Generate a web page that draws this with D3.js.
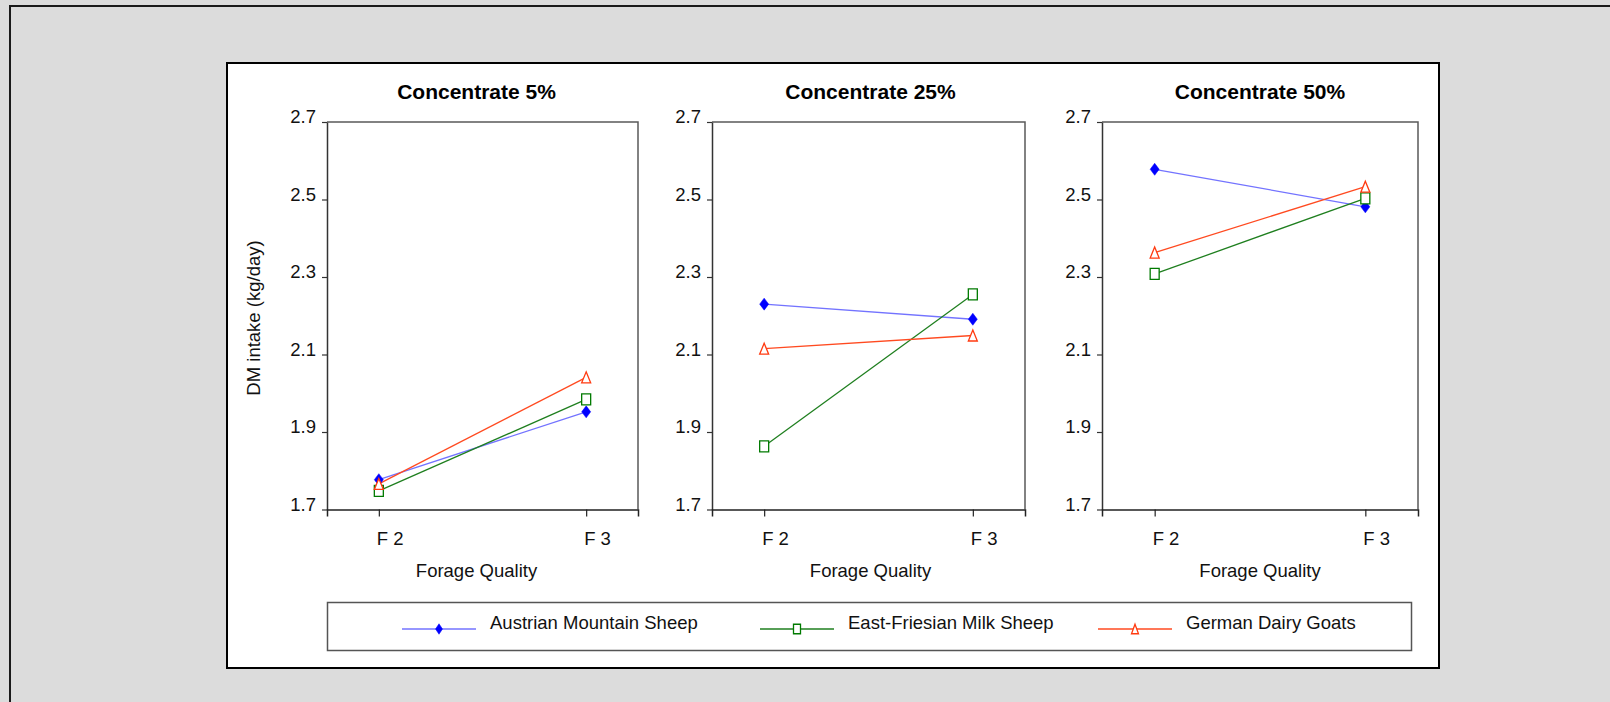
<!DOCTYPE html>
<html>
<head>
<meta charset="utf-8">
<script src="https://cdn.jsdelivr.net/npm/d3@7"></script>
<style>
  html, body { margin: 0; background: #dcdcdc; overflow: hidden; }
  svg { display: block; }
</style>
</head>
<body>
<svg id="chart" width="1610" height="702"></svg>
<script>
// chart data
const panelTitles = ["Concentrate 5%", "Concentrate 25%", "Concentrate 50%"];
const forage = ["F 2", "F 3"];
const breeds = ["Austrian Mountain Sheep", "East-Friesian Milk Sheep", "German Dairy Goats"];
const austrian = [[1.777, 1.952], [2.230, 2.191], [2.578, 2.481]];
const eastFriesian = [[1.748, 1.984], [1.863, 2.255], [2.308, 2.503]];
const germanGoats = [[1.766, 2.041], [2.115, 2.149], [2.363, 2.533]];
const yTicks = [1.7, 1.9, 2.1, 2.3, 2.5, 2.7];

const seriesValues = [austrian, eastFriesian, germanGoats];
const colors = ["#0000ff", "#007a00", "#ff3a10"];
const lineColors = ["#7373ff", "#1f7f1f", "#ff4a20"];
const shapes = ["diamond", "square", "triangle"];

let svg = d3.select("#chart");
const font = "'Liberation Sans', Arial, sans-serif";

// outer gray frame (only left and top edges visible)
svg.append("rect")
  .attr("x", 0).attr("y", 0)
  .attr("width", 1610).attr("height", 702)
  .attr("fill", "#dcdcdc");
svg.append("path")
  .attr("d", "M10,702V6H1610")
  .attr("fill", "none")
  .attr("stroke", "#1a1a1a").attr("stroke-width", 2);

// white chart area
svg.append("rect")
  .attr("x", 227).attr("y", 63)
  .attr("width", 1212).attr("height", 605)
  .attr("fill", "#ffffff")
  .attr("stroke", "#000").attr("stroke-width", 2);

// panel layout
let panelLeft = [327, 712, 1102];
let panelWidth = [311, 313, 316];
let titleShift = [-6, 2, 0];
let plotTop = 122;
let plotBottom = 509.5;

let yScale = d3.scaleLinear()
  .domain([1.7, 2.7])
  .range([plotBottom, plotTop]);

function markerPath(shape, w, h) {
  if (shape === "diamond") {
    return `M0,${-h / 2}L${w / 2},0L0,${h / 2}L${-w / 2},0Z`;
  }
  if (shape === "square") {
    return `M${-w / 2},${-h / 2}H${w / 2}V${h / 2}H${-w / 2}Z`;
  }
  return `M0,${-h / 2}L${w / 2},${h / 2}H${-w / 2}Z`;
}

function drawMarker(g, i, x, y, w, h) {
  let isDiamond = shapes[i] === "diamond";
  g.append("path")
    .attr("d", markerPath(shapes[i], w, isDiamond ? h + 1 : h))
    .attr("transform", "translate(" + x + "," + y + ")")
    .attr("fill", isDiamond ? colors[i] : "#ffffff")
    .attr("stroke", colors[i])
    .attr("stroke-width", isDiamond ? 0.5 : 1.3);
}

panelTitles.forEach((title, p) => {
  let left = panelLeft[p];
  let w = panelWidth[p];

  let xScale = d3.scalePoint()
    .domain(forage)
    .range([left, left + w])
    .padding(0.25);

  let plot = svg.append("g").attr("class", "panel");

  // frame top & right
  plot.append("path")
    .attr("d", `M${left},${plotTop}H${left + w}V${plotBottom}`)
    .attr("fill", "none")
    .attr("stroke", "#5a5a5a")
    .attr("stroke-width", 1.5);

  // y axis
  let yAxis = d3.axisLeft(yScale)
    .tickValues(yTicks)
    .tickFormat(d3.format(".1f"))
    .tickSizeInner(5)
    .tickSizeOuter(0);
  let yGroup = plot.append("g")
    .attr("transform", "translate(" + left + ",0)")
    .call(yAxis);
  yGroup.select(".domain").attr("stroke", "#333").attr("stroke-width", 1.5);
  yGroup.selectAll(".tick line").attr("stroke", "#333").attr("stroke-width", 1.2);
  yGroup.selectAll(".tick text")
    .attr("x", -11)
    .attr("dy", "0.05em")
    .style("font-family", font)
    .style("font-size", "18.5px")
    .style("fill", "#111");

  // x axis
  let xAxis = d3.axisBottom(xScale)
    .tickSizeInner(7)
    .tickSizeOuter(7)
    .tickPadding(0);
  let xGroup = plot.append("g")
    .attr("transform", "translate(0," + plotBottom + ")")
    .call(xAxis);
  xGroup.select(".domain").attr("stroke", "#222").attr("stroke-width", 1.5);
  xGroup.selectAll(".tick line").attr("stroke", "#222").attr("stroke-width", 1.2);
  xGroup.selectAll(".tick text")
    .attr("text-anchor", "start")
    .attr("x", -2.5)
    .attr("y", 35.5)
    .attr("dy", 0)
    .style("font-family", font)
    .style("font-size", "18.5px")
    .style("fill", "#111");

  // title
  plot.append("text")
    .text(title)
    .attr("x", left + w / 2 + titleShift[p])
    .attr("y", 99)
    .attr("text-anchor", "middle")
    .style("font-family", font)
    .style("font-weight", "bold")
    .style("font-size", "21px")
    .style("fill", "#000");

  // x axis title
  plot.append("text")
    .text("Forage Quality")
    .attr("x", left + w / 2 + titleShift[p])
    .attr("y", 577)
    .attr("text-anchor", "middle")
    .style("font-family", font)
    .style("font-size", "18.5px")
    .style("fill", "#111");

  // lines
  let lineFunction = d3.line()
    .x((d, i) => xScale(forage[i]))
    .y((d) => yScale(d));

  seriesValues.forEach((series, s) => {
    plot.append("path")
      .attr("d", lineFunction(series[p]))
      .attr("fill", "none")
      .attr("stroke", lineColors[s])
      .attr("stroke-width", 1.3);
  });

  // markers
  seriesValues.forEach((series, s) => {
    series[p].forEach((v, i) => {
      drawMarker(plot, s, xScale(forage[i]), yScale(v), 9, 11);
    });
  });
});

// y axis title
svg.append("text")
  .text("DM intake (kg/day)")
  .attr("transform", "translate(260,318) rotate(-90)")
  .attr("text-anchor", "middle")
  .style("font-family", font)
  .style("font-size", "18.5px")
  .style("fill", "#111");

// legend
let legend = svg.append("g").attr("id", "legend");
legend.append("rect")
  .attr("x", 327.5).attr("y", 602.5)
  .attr("width", 1084).attr("height", 48)
  .attr("fill", "#fff")
  .attr("stroke", "#555").attr("stroke-width", 1.5);

let legendX = [402, 760, 1098];
breeds.forEach((name, i) => {
  let x0 = legendX[i];
  let ly = 629;
  legend.append("line")
    .attr("x1", x0).attr("x2", x0 + 74)
    .attr("y1", ly).attr("y2", ly)
    .attr("stroke", lineColors[i])
    .attr("stroke-width", 1.3);
  drawMarker(legend, i, x0 + 37, ly, 7, 9.5);
  legend.append("text")
    .text(name)
    .attr("x", x0 + 88)
    .attr("y", 628.5)
    .style("font-family", font)
    .style("font-size", "18.5px")
    .style("fill", "#111");
});
</script>
</body>
</html>
